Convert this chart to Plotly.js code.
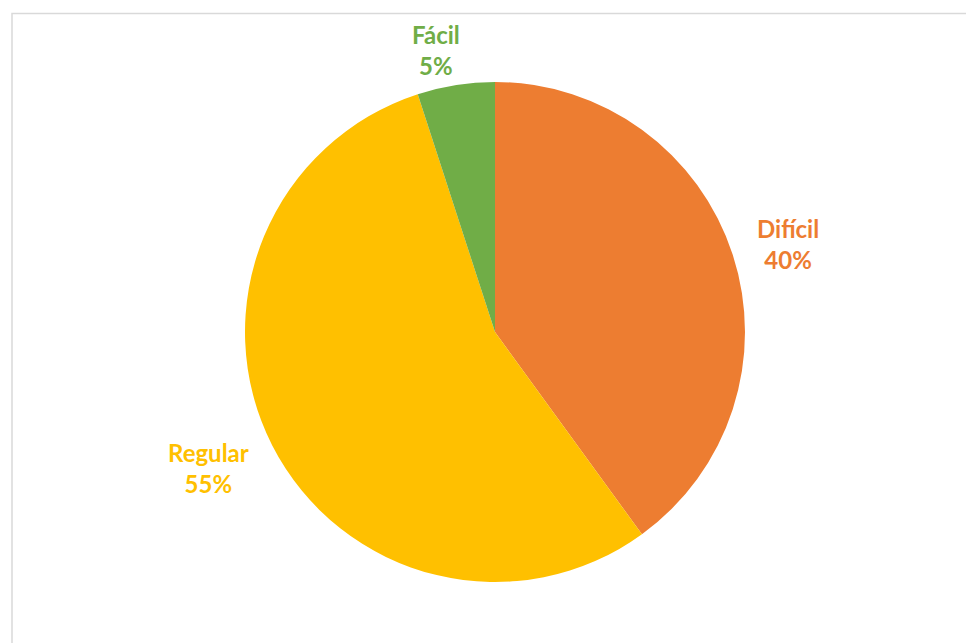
<!DOCTYPE html>
<html><head><meta charset="utf-8">
<script src="https://cdn.plot.ly/plotly-3.0.1.min.js"></script>
<style>html,body{margin:0;padding:0;background:#fff}#chart{width:966px;height:643px}</style>
</head><body><div id="chart"></div>
<script>
const categories = ["Difícil", "Regular", "Fácil"];
const values = [40, 55, 5];
const colors = ["#ED7D31", "#FFC000", "#70AD47"];

const W = 966, H = 643;
const cx = 495, cy = 332, R = 250;
const FONT = "Lato, sans-serif", FSIZE = 24, LINE = FSIZE * 1.3;

const trace = {
  type: "pie",
  labels: categories,
  values: values,
  sort: false,
  direction: "clockwise",
  rotation: 0,
  marker: {colors: colors, line: {width: 0}},
  textinfo: "none",
  hoverinfo: "label+percent",
  showlegend: false,
  domain: {x: [(cx - R) / W, (cx + R) / W], y: [1 - (cy + R) / H, 1 - (cy - R) / H]}
};

// measure label widths so the label box sits just outside the pie
const ctx = document.createElement("canvas").getContext("2d");
ctx.font = "bold " + FSIZE + "px " + FONT;

const total = values.reduce((a, b) => a + b, 0);
const nudge = {"Difícil": [5, 6], "Regular": [-7, -7], "Fácil": [-12, 13]};
let acc = 0;
const annotations = categories.map((c, i) => {
  const mid = (acc + values[i] / 2) / total * 2 * Math.PI;
  acc += values[i];
  const s = Math.sin(mid), co = Math.cos(mid);
  const pct = Math.round(values[i] / total * 100) + "%";
  const wHalf = Math.max(ctx.measureText(c).width, ctx.measureText(pct).width) / 2;
  const hHalf = LINE;
  const d = R + 14 + wHalf * Math.abs(s) + hHalf * Math.abs(co);
  const n = nudge[c] || [0, 0];
  const px = cx + d * s + n[0], py = cy - d * co + n[1];
  return {
    xref: "paper", yref: "paper",
    x: px / W, y: 1 - py / H,
    xanchor: "center", yanchor: "middle",
    text: "<b>" + c + "<br>" + pct + "</b>",
    showarrow: false,
    font: {family: FONT, size: FSIZE, color: colors[i]},
    align: "center"
  };
});

const layout = {
  width: W, height: H,
  margin: {l: 0, r: 0, t: 0, b: 0},
  paper_bgcolor: "#fff",
  plot_bgcolor: "#fff",
  annotations: annotations,
  shapes: [{
    type: "rect", xref: "paper", yref: "paper",
    x0: 12 / W, x1: 1.02, y0: -0.02, y1: 1 - 13.5 / H,
    line: {color: "#D9D9D9", width: 1.5}
  }]
};

Plotly.newPlot("chart", [trace], layout, {displayModeBar: false, staticPlot: true});
</script></body></html>
